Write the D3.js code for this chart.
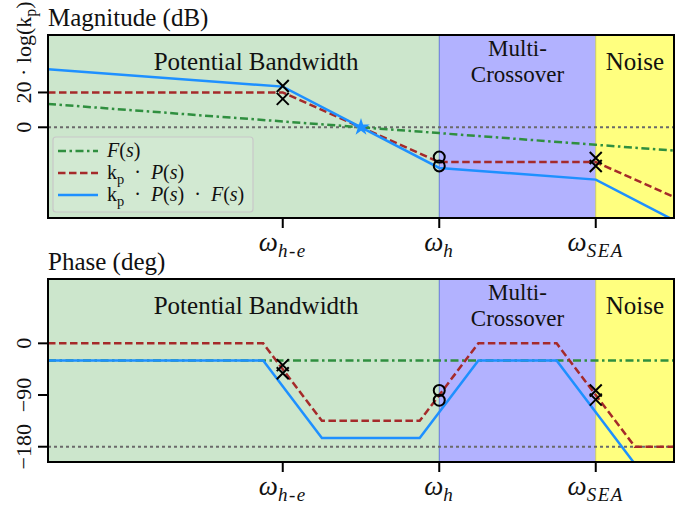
<!DOCTYPE html>
<html>
<head>
<meta charset="utf-8">
<script src="https://cdn.jsdelivr.net/npm/d3@7"></script>
<style>
  body { margin: 0; background: #fff; }
  svg { display: block; }
  svg text { fill: #111; }
</style>
</head>
<body>
<div id="chart"></div>
<script>
// x axis is in "decade" units, ticks at the three corner frequencies
const xDomain = [0, 4];
const xTickVals = [1.5, 2.5, 3.5];
const xTickSubs = ['h-e', 'h', 'SEA'];

const regionBounds = [[0, 2.5], [2.5, 3.5], [3.5, 4]];
const regionLabelX = [1.33, 3.0, 3.75];
const regionLabels = [['Potential Bandwidth'], ['Multi-', 'Crossover'], ['Noise']];

// Magnitude (dB)
const magX = [0, 1.5, 2.5, 3.5, 4];
const magF = [13.4, 3.35, -3.35, -10.05, -13.4];
const magP = [20, 20, -20, -20, -40];
const magPF = [33.4, 23.35, -23.35, -30.05, -53.4];
const magTicks = [0, 20];
const magCrosses = [[1.5, 23.7], [1.5, 16.3], [3.5, -17.6], [3.5, -22.2]];
const magCircles = [[2.5, -17.1], [2.5, -22.2]];
const magStars = [[2, 0]];

// Phase (deg)
const phaseX = [0, 1.375, 1.75, 2.375, 2.75, 3.25, 3.75, 4];
const phaseF = [-30, -30, -30, -30, -30, -30, -30, -30];
const phaseP = [0, 0, -135, -135, 0, 0, -180, -180];
const phasePF = [-30, -30, -165, -165, -30, -30, -210, -210];
const phaseTicks = [0, -90, -180];
const phaseCrosses = [[1.5, -38], [1.5, -52], [3.5, -82], [3.5, -98]];
const phaseCircles = [[2.5, -82], [2.5, -99]];

const DOT = '\u2002·\u2002';
const legendLabels = [
    [['F', 'i'], ['('], ['s', 'i'], [')']],
    [['k'], ['p', 'sub'], [DOT], ['P', 'i'], ['('], ['s', 'i'], [')']],
    [['k'], ['p', 'sub'], [DOT], ['P', 'i'], ['('], ['s', 'i'], [')'], [DOT], ['F', 'i'], ['('], ['s', 'i'], [')']]
];

const regionFill = ['rgba(0,128,0,0.2)', 'rgba(0,0,255,0.3)', 'rgba(255,255,0,0.5)'];
const seriesStyle = [
    { color: '#2f8f3f', dash: '8,3.5,2.5,3.5' },
    { color: '#a52a2a', dash: '7.5,3.5' },
    { color: '#1e90ff', dash: null }
];

const FONT = '"Liberation Serif"';
const width = 691, height = 508;
const plotLeft = 48, plotRight = 674;

const svg = d3.select('#chart').append('svg')
    .attr('width', width)
    .attr('height', height);

svg.append('rect').attr('width', width).attr('height', height).attr('fill', '#fff');

const xScale = d3.scaleLinear().domain(xDomain).range([plotLeft, plotRight]);

// writes math-ish text as tspans: [text, 'i' | 'sub']
function richText(textSel, parts, size) {
    let shifted = false;
    parts.forEach(p => {
        const ts = textSel.append('tspan').text(p[0]);
        if (p[1] === 'i') ts.style('font-style', 'italic');
        if (p[1] === 'sub') {
            ts.attr('dy', size * 0.25).style('font-size', (size * 0.72) + 'px');
            shifted = true;
        } else if (shifted) {
            ts.attr('dy', -size * 0.25);
            shifted = false;
        }
    });
}

function drawPanel(cfg) {
    const g = svg.append('g');
    const yScale = d3.scaleLinear().domain(cfg.yDomain).range([cfg.bottom, cfg.top]);

    const clipId = 'clip-' + cfg.id;
    svg.append('clipPath').attr('id', clipId)
        .append('rect')
        .attr('x', plotLeft).attr('y', cfg.top)
        .attr('width', plotRight - plotLeft).attr('height', cfg.bottom - cfg.top);

    // shaded regions
    g.selectAll('.region')
        .data(regionBounds)
        .enter()
        .append('rect')
        .attr('x', d => xScale(d[0]))
        .attr('y', cfg.top)
        .attr('width', d => xScale(d[1]) - xScale(d[0]))
        .attr('height', cfg.bottom - cfg.top)
        .attr('fill', (d, i) => regionFill[i])
        .attr('stroke', (d, i) => regionFill[i])
        .attr('stroke-width', 1);

    // region labels, one text per line
    regionLabels.forEach((lines, i) => {
        const two = lines.length > 1;
        lines.forEach((l, j) => {
            g.append('text')
                .attr('x', xScale(regionLabelX[i]))
                .attr('y', cfg.top + (two ? 21 + j * 25.5 : 35))
                .attr('text-anchor', 'middle')
                .style('font-family', FONT)
                .style('font-size', two ? '23px' : '25px')
                .text(l);
        });
    });

    const plot = g.append('g').attr('clip-path', `url(#${clipId})`);

    // reference line
    plot.append('line')
        .attr('x1', plotLeft).attr('x2', plotRight)
        .attr('y1', yScale(cfg.refLine)).attr('y2', yScale(cfg.refLine))
        .attr('stroke', '#6a6a6a')
        .attr('stroke-width', 2)
        .attr('stroke-dasharray', '3,3');

    const line = d3.line()
        .x(d => xScale(d[0]))
        .y(d => yScale(d[1]));

    cfg.series.forEach((vals, i) => {
        plot.append('path')
            .datum(cfg.xs.map((x, k) => [x, vals[k]]))
            .attr('d', line)
            .attr('fill', 'none')
            .attr('stroke', seriesStyle[i].color)
            .attr('stroke-width', 2.5)
            .attr('stroke-dasharray', seriesStyle[i].dash);
    });

    // markers
    plot.selectAll('.cross')
        .data(cfg.crosses)
        .enter()
        .append('path')
        .attr('transform', d => `translate(${xScale(d[0])},${yScale(d[1])})`)
        .attr('d', 'M-6,-6L6,6M-6,6L6,-6')
        .attr('stroke', '#000')
        .attr('stroke-width', 2)
        .attr('fill', 'none');

    plot.selectAll('.circ')
        .data(cfg.circles)
        .enter()
        .append('circle')
        .attr('cx', d => xScale(d[0]))
        .attr('cy', d => yScale(d[1]))
        .attr('r', 5.5)
        .attr('fill', 'none')
        .attr('stroke', '#000')
        .attr('stroke-width', 2);

    plot.selectAll('.star')
        .data(cfg.stars || [])
        .enter()
        .append('path')
        .attr('transform', d => `translate(${xScale(d[0])},${yScale(d[1])})`)
        .attr('d', d3.symbol().type(d3.symbolStar).size(95))
        .attr('fill', seriesStyle[2].color);

    // frame
    g.append('rect')
        .attr('x', plotLeft).attr('y', cfg.top)
        .attr('width', plotRight - plotLeft).attr('height', cfg.bottom - cfg.top)
        .attr('fill', 'none')
        .attr('stroke', '#000')
        .attr('stroke-width', 2);

    // x ticks
    xTickVals.forEach((v, i) => {
        const x = xScale(v);
        g.append('line')
            .attr('x1', x).attr('x2', x)
            .attr('y1', cfg.bottom).attr('y2', cfg.bottom + 10)
            .attr('stroke', '#000').attr('stroke-width', 2);
        const t = g.append('text')
            .attr('x', x)
            .attr('y', cfg.bottom + 33)
            .attr('text-anchor', 'middle')
            .style('font-family', FONT)
            .style('font-size', '27px');
        t.append('tspan').style('font-style', 'italic').text('ω');
        t.append('tspan')
            .attr('dy', 6)
            .style('font-size', '19px')
            .style('font-style', 'italic')
            .style('letter-spacing', '1.5px')
            .text(xTickSubs[i]);
    });

    // y ticks (rotated labels)
    cfg.yTicks.forEach(v => {
        const y = yScale(v);
        g.append('line')
            .attr('x1', plotLeft - 10).attr('x2', plotLeft)
            .attr('y1', y).attr('y2', y)
            .attr('stroke', '#000').attr('stroke-width', 2);
        const t = g.append('text')
            .attr('transform', `translate(23,${y}) rotate(-90)`)
            .attr('dy', '0.35em')
            .style('font-family', FONT)
            .style('font-size', '22px');
        if (cfg.tickParts && cfg.tickParts[v]) {
            t.attr('x', -11).attr('text-anchor', 'start');
            richText(t, cfg.tickParts[v], 22);
        } else {
            t.attr('text-anchor', 'middle').text(v < 0 ? '\u2212' + Math.abs(v) : v);
        }
    });

    // title
    g.append('text')
        .attr('x', plotLeft)
        .attr('y', cfg.top - 9)
        .style('font-family', FONT)
        .style('font-size', '25px')
        .text(cfg.title);

    return g;
}

const magPanel = drawPanel({
    id: 'mag', title: 'Magnitude (dB)',
    top: 35, bottom: 218, yDomain: [-52.1, 53],
    xs: magX, series: [magF, magP, magPF],
    refLine: 0, yTicks: magTicks,
    tickParts: { 20: [['20 · log(k'], ['p', 'sub'], [')']] },
    crosses: magCrosses, circles: magCircles, stars: magStars
});

drawPanel({
    id: 'phase', title: 'Phase (deg)',
    top: 279, bottom: 462, yDomain: [-206.6, 112],
    xs: phaseX, series: [phaseF, phaseP, phasePF],
    refLine: -180, yTicks: phaseTicks,
    crosses: phaseCrosses, circles: phaseCircles
});

// legend (magnitude panel only)
const legend = magPanel.append('g');
legend.append('rect')
    .attr('x', 53).attr('y', 137)
    .attr('width', 200).attr('height', 75)
    .attr('rx', 3)
    .attr('fill', 'rgba(255,255,255,0.12)')
    .attr('stroke', '#c8c8c8')
    .attr('stroke-width', 1.2);

legendLabels.forEach((parts, i) => {
    const y = 151 + i * 22;
    legend.append('line')
        .attr('x1', 58).attr('x2', 98)
        .attr('y1', y).attr('y2', y)
        .attr('stroke', seriesStyle[i].color)
        .attr('stroke-width', 2.5)
        .attr('stroke-dasharray', seriesStyle[i].dash);
    const t = legend.append('text')
        .attr('x', 107)
        .attr('y', y + 6)
        .style('font-family', FONT)
        .style('font-size', '20px');
    richText(t, parts, 20);
});
</script>
</body>
</html>
